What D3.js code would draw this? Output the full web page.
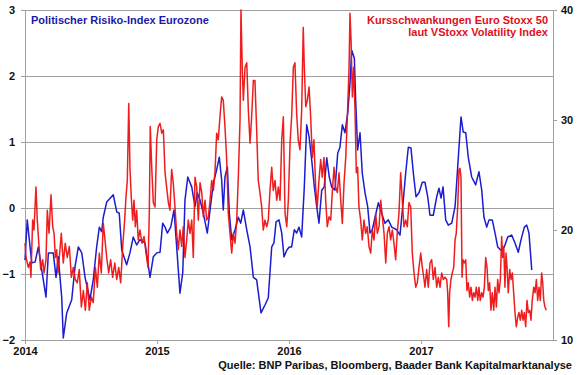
<!DOCTYPE html>
<html>
<head>
<meta charset="utf-8">
<script src="https://cdn.jsdelivr.net/npm/d3@7"></script>
<style>
  body { margin: 0; background: #fff; }
  svg text { font-family: "Liberation Sans", Arial, sans-serif; font-weight: bold; }
</style>
</head>
<body>
<div id="chart"></div>
<script>
// Politischer Risiko-Index Eurozone (left axis), as decimal years
const riskYears = [2014.000, 2014.017, 2014.051, 2014.076, 2014.101, 2014.127, 2014.159, 2014.177, 2014.214, 2014.235,
  2014.252, 2014.278, 2014.290, 2014.316, 2014.354, 2014.379, 2014.404, 2014.430, 2014.455, 2014.492,
  2014.517, 2014.543, 2014.563, 2014.581, 2014.593, 2014.619, 2014.669, 2014.695, 2014.714, 2014.733,
  2014.770, 2014.795, 2014.820, 2014.846, 2014.871, 2014.909, 2014.947, 2014.972, 2014.998, 2015.023,
  2015.043, 2015.061, 2015.078, 2015.104, 2015.129, 2015.149, 2015.174, 2015.195, 2015.212, 2015.233,
  2015.263, 2015.288, 2015.305, 2015.326, 2015.351, 2015.381, 2015.402, 2015.427, 2015.452, 2015.472,
  2015.490, 2015.502, 2015.515, 2015.533, 2015.548, 2015.566, 2015.591, 2015.616, 2015.634, 2015.654,
  2015.680, 2015.705, 2015.730, 2015.755, 2015.788, 2015.818, 2015.843, 2015.869, 2015.886, 2015.902,
  2015.924, 2015.945, 2015.962, 2015.983, 2016.002, 2016.020, 2016.040, 2016.058, 2016.076, 2016.096,
  2016.116, 2016.134, 2016.152, 2016.172, 2016.192, 2016.210, 2016.227, 2016.248, 2016.267, 2016.286,
  2016.305, 2016.323, 2016.348, 2016.369, 2016.386, 2016.404, 2016.424, 2016.445, 2016.462, 2016.475,
  2016.495, 2016.505, 2016.520, 2016.538, 2016.555, 2016.576, 2016.596, 2016.614, 2016.631, 2016.652,
  2016.677, 2016.702, 2016.727, 2016.752, 2016.778, 2016.816, 2016.841, 2016.866, 2016.884, 2016.904,
  2016.924, 2016.942, 2016.962, 2016.985, 2017.010, 2017.030, 2017.051, 2017.068, 2017.093, 2017.119,
  2017.136, 2017.152, 2017.167, 2017.187, 2017.207, 2017.233, 2017.258, 2017.278, 2017.303, 2017.320,
  2017.339, 2017.358, 2017.384, 2017.414, 2017.439, 2017.460, 2017.477, 2017.498, 2017.515, 2017.540,
  2017.561, 2017.581, 2017.606, 2017.631, 2017.657, 2017.687, 2017.712, 2017.737, 2017.758, 2017.783,
  2017.801, 2017.818, 2017.839]
const riskValues = [-0.79, -0.18, -0.83, -0.82, -0.59, -0.94, -1.35, -0.68, -0.68, -1.05,
  -0.74, -1.35, -1.97, -1.59, -1.39, -0.89, -0.59, -0.68, -1.05, -1.39,
  -1.09, -0.59, -0.29, -0.36, -0.14, 0.09, 0.20, -0.06, -0.08, -0.64,
  -0.86, -0.68, -0.44, -0.56, -0.48, -0.53, -1.05, -0.74, -0.68, -0.67,
  -0.23, -0.29, -0.38, -0.29, -0.03, -0.59, -1.29, -0.98, 0.12, 0.47,
  0.32, 0.02, 0.23, 0.12, -0.08, -0.38, -0.03, 0.38, 0.58, 0.77,
  0.42, -0.03, 0.47, 0.62, -0.08, -0.48, -0.33, -0.14, -0.23, -0.03,
  -0.33, -0.59, -1.05, -1.09, -1.59, -1.47, -1.36, -0.59, -0.53, -0.21,
  -0.18, -0.38, -0.74, -0.64, -0.59, -0.59, -0.33, -0.38, -0.29, -0.44,
  0.32, 1.26, 1.08, 0.73, 0.32, 0.02, -0.23, 0.27, 0.32, 0.76,
  0.47, 0.32, 0.27, 0.83, 0.92, 1.26, 1.14, 1.44, 1.89, 2.39,
  2.27, 1.64, 0.88, 1.14, 0.53, 0.23, 0.02, -0.38, -0.33, -0.14,
  0.08, -0.08, -0.23, -0.18, -0.29, -0.33, -0.41, 0.12, 0.53, 0.92,
  0.91, 0.53, 0.17, 0.23, 0.39, 0.39, 0.17, -0.11, -0.11, 0.17,
  0.30, 0.15, 0.32, -0.18, -0.26, -0.23, 0.02, 0.62, 1.38, 1.15,
  1.14, 0.77, 0.47, 0.35, 0.55, 0.27, -0.14, -0.29, -0.18, -0.18,
  -0.38, -0.59, -0.64, -0.59, -0.44, -0.41, -0.53, -0.67, -0.48, -0.29,
  -0.26, -0.38, -0.94]

// VStoxx (right axis)
const vstoxxYears = [2014.000, 2014.008, 2014.025, 2014.038, 2014.045, 2014.058, 2014.068, 2014.083, 2014.093, 2014.108,
  2014.119, 2014.134, 2014.144, 2014.159, 2014.169, 2014.182, 2014.197, 2014.210, 2014.220, 2014.230,
  2014.240, 2014.250, 2014.260, 2014.275, 2014.290, 2014.305, 2014.320, 2014.336, 2014.351, 2014.366,
  2014.381, 2014.396, 2014.411, 2014.427, 2014.442, 2014.457, 2014.472, 2014.487, 2014.502, 2014.517,
  2014.533, 2014.548, 2014.563, 2014.578, 2014.593, 2014.606, 2014.619, 2014.634, 2014.649, 2014.664,
  2014.680, 2014.695, 2014.710, 2014.725, 2014.740, 2014.755, 2014.765, 2014.775, 2014.786, 2014.795,
  2014.805, 2014.816, 2014.826, 2014.836, 2014.846, 2014.858, 2014.871, 2014.886, 2014.902, 2014.917,
  2014.932, 2014.942, 2014.949, 2014.960, 2014.972, 2014.985, 2014.998, 2015.010, 2015.023, 2015.036,
  2015.048, 2015.061, 2015.073, 2015.086, 2015.098, 2015.111, 2015.123, 2015.136, 2015.149, 2015.161,
  2015.174, 2015.187, 2015.199, 2015.212, 2015.225, 2015.237, 2015.250, 2015.263, 2015.275, 2015.288,
  2015.301, 2015.313, 2015.326, 2015.339, 2015.351, 2015.364, 2015.376, 2015.389, 2015.402, 2015.414,
  2015.427, 2015.439, 2015.452, 2015.464, 2015.477, 2015.490, 2015.502, 2015.515, 2015.528, 2015.540,
  2015.553, 2015.566, 2015.578, 2015.591, 2015.604, 2015.616, 2015.629, 2015.636, 2015.646, 2015.654,
  2015.667, 2015.680, 2015.692, 2015.705, 2015.717, 2015.730, 2015.742, 2015.755, 2015.767, 2015.780,
  2015.793, 2015.805, 2015.818, 2015.831, 2015.843, 2015.856, 2015.869, 2015.881, 2015.894, 2015.907,
  2015.919, 2015.932, 2015.945, 2015.957, 2015.970, 2015.983, 2015.995, 2016.008, 2016.020, 2016.033,
  2016.045, 2016.058, 2016.070, 2016.083, 2016.096, 2016.108, 2016.116, 2016.127, 2016.139, 2016.152,
  2016.164, 2016.177, 2016.189, 2016.202, 2016.214, 2016.227, 2016.240, 2016.252, 2016.265, 2016.278,
  2016.290, 2016.303, 2016.316, 2016.328, 2016.341, 2016.354, 2016.366, 2016.379, 2016.392, 2016.404,
  2016.417, 2016.430, 2016.442, 2016.455, 2016.462, 2016.470, 2016.480, 2016.490, 2016.500, 2016.510,
  2016.520, 2016.530, 2016.543, 2016.555, 2016.568, 2016.581, 2016.593, 2016.606, 2016.619, 2016.631,
  2016.644, 2016.657, 2016.669, 2016.682, 2016.695, 2016.707, 2016.720, 2016.733, 2016.745, 2016.758,
  2016.770, 2016.783, 2016.795, 2016.808, 2016.820, 2016.833, 2016.846, 2016.858, 2016.871, 2016.884,
  2016.896, 2016.909, 2016.922, 2016.934, 2016.947, 2016.960, 2016.972, 2016.985, 2016.998, 2017.010,
  2017.023, 2017.030, 2017.043, 2017.055, 2017.068, 2017.081, 2017.093, 2017.106, 2017.119, 2017.131,
  2017.144, 2017.157, 2017.169, 2017.182, 2017.195, 2017.202, 2017.210, 2017.217, 2017.227, 2017.237,
  2017.248, 2017.258, 2017.267, 2017.278, 2017.288, 2017.295, 2017.303, 2017.311, 2017.318, 2017.328,
  2017.339, 2017.348, 2017.358, 2017.369, 2017.379, 2017.389, 2017.399, 2017.409, 2017.419, 2017.430,
  2017.439, 2017.449, 2017.460, 2017.470, 2017.480, 2017.490, 2017.500, 2017.510, 2017.520, 2017.530,
  2017.540, 2017.551, 2017.561, 2017.571, 2017.581, 2017.591, 2017.601, 2017.611, 2017.619, 2017.627,
  2017.636, 2017.644, 2017.652, 2017.661, 2017.672, 2017.682, 2017.692, 2017.702, 2017.712, 2017.722,
  2017.733, 2017.742, 2017.752, 2017.763, 2017.773, 2017.783, 2017.793, 2017.803, 2017.813, 2017.824,
  2017.833, 2017.843, 2017.854, 2017.864, 2017.874, 2017.884, 2017.894, 2017.904, 2017.914, 2017.922,
  2017.930, 2017.939, 2017.949]
const vstoxxValues = [18.8, 17.5, 16.6, 17.1, 15.7, 20.9, 20.0, 23.9, 20.9, 18.2,
  16.4, 17.3, 16.1, 17.3, 21.8, 19.7, 23.2, 20.3, 19.7, 17.5,
  18.2, 16.1, 17.5, 19.7, 17.0, 18.8, 17.5, 18.5, 15.7, 16.6,
  15.5, 15.2, 16.4, 13.0, 14.5, 12.7, 15.2, 12.7, 13.9, 13.4,
  16.6, 14.8, 17.9, 16.1, 20.6, 19.1, 17.5, 16.1, 17.3, 15.7,
  17.0, 15.5, 16.6, 15.2, 18.5, 20.9, 23.0, 24.5, 31.5, 25.7,
  23.0, 20.9, 22.7, 20.3, 21.8, 19.1, 20.0, 18.8, 19.4, 17.9,
  16.6, 21.8, 29.4, 25.7, 22.5, 22.1, 28.2, 29.4, 29.7, 28.8,
  29.1, 25.2, 23.9, 22.5, 21.8, 25.5, 24.3, 22.1, 19.7, 18.2,
  20.0, 18.5, 20.3, 17.5, 19.1, 20.9, 19.7, 20.9, 17.5, 24.8,
  23.9, 20.9, 24.3, 23.4, 21.2, 22.7, 20.9, 21.2, 22.7, 24.5,
  23.6, 25.2, 28.8, 28.2, 30.3, 32.1, 31.8, 29.4, 26.4, 21.5,
  19.7, 17.9, 19.7, 18.8, 20.9, 24.8, 30.0, 40.0, 34.8, 31.8,
  34.8, 35.2, 30.9, 27.9, 30.3, 33.6, 33.6, 29.1, 24.5, 23.4,
  22.1, 20.0, 20.9, 20.3, 20.9, 23.6, 25.7, 23.6, 24.5, 22.7,
  23.9, 22.7, 28.2, 30.3, 21.5, 20.3, 22.7, 27.9, 30.3, 34.8,
  35.2, 30.6, 28.2, 27.3, 30.9, 38.4, 34.8, 31.2, 31.8, 33.0,
  30.3, 26.6, 28.2, 23.9, 22.1, 24.5, 26.4, 24.8, 26.6, 22.7,
  20.3, 21.2, 20.9, 23.4, 25.7, 23.9, 23.4, 25.2, 22.7, 20.6,
  24.3, 26.6, 30.3, 34.8, 39.7, 37.3, 32.1, 34.8, 30.9, 25.2,
  25.7, 22.1, 20.9, 19.1, 20.9, 19.7, 20.3, 18.5, 17.9, 20.0,
  19.1, 21.5, 19.7, 20.3, 22.7, 21.2, 19.7, 17.0, 19.7, 20.3,
  19.1, 20.0, 18.8, 17.3, 19.7, 21.5, 25.2, 22.7, 20.3, 20.9,
  20.3, 22.5, 22.1, 17.9, 16.1, 14.8, 15.2, 16.6, 17.9, 16.6,
  15.5, 14.8, 16.4, 14.8, 17.0, 17.3, 15.5, 16.6, 14.8, 15.7,
  14.8, 16.1, 15.5, 15.7, 15.5, 14.3, 11.2, 14.3, 15.5, 16.1,
  16.6, 19.1, 19.7, 22.1, 25.5, 25.6, 24.8, 15.7, 17.3, 17.0,
  17.3, 14.5, 15.2, 13.9, 14.8, 13.6, 14.3, 13.9, 14.8, 13.6,
  14.8, 13.6, 14.3, 13.9, 14.8, 17.5, 16.6, 14.5, 15.2, 12.7,
  14.3, 12.7, 14.8, 13.0, 15.5, 14.3, 15.5, 19.4, 17.5, 18.5,
  14.8, 17.9, 16.6, 14.3, 16.4, 15.5, 16.1, 14.3, 12.5, 11.2,
  12.1, 12.5, 11.8, 12.7, 11.8, 12.5, 11.2, 13.6, 12.5, 12.7,
  11.8, 13.6, 14.8, 14.3, 15.5, 13.6, 14.8, 13.6, 16.1, 15.2,
  13.6, 13.0, 12.7]

const leftTicks = [-2, -1, 0, 1, 2, 3]
const rightTicks = [10, 20, 30, 40]
const yearTicks = [2014, 2015, 2016, 2017]

const riskTitle = "Politischer Risiko-Index Eurozone"
const vstoxxTitle = ["Kursschwankungen Euro Stoxx 50", "laut VStoxx Volatility Index"]
const sourceText = "Quelle: BNP Paribas, Bloomberg, Baader Bank Kapitalmarktanalyse"

const w = 580, h = 375
const margin = {left: 25, right: 27, top: 10, bottom: 35}

const svg = d3.select("#chart").append("svg")
  .attr("width", w).attr("height", h)

const x = d3.scaleLinear().domain([2014, 2018]).range([margin.left, w - margin.right])
const yL = d3.scaleLinear().domain([-2, 3]).range([h - margin.bottom, margin.top])
const yR = d3.scaleLinear().domain([10, 40]).range([h - margin.bottom, margin.top])

const axisCol = "#a0a0a0"

// horizontal gridlines
svg.append("g").selectAll("line")
  .data(leftTicks)
  .join("line")
  .attr("x1", x(2014)).attr("x2", x(2018))
  .attr("y1", d => yL(d)).attr("y2", d => yL(d))
  .attr("stroke", axisCol).attr("stroke-width", 1)
  .attr("shape-rendering", "crispEdges")

// axes
const gL = svg.append("g").attr("transform", `translate(${x(2014)},0)`)
  .call(d3.axisLeft(yL).tickValues(leftTicks).tickSize(4).tickPadding(6).tickFormat(d3.format("d")))
const gR = svg.append("g").attr("transform", `translate(${x(2018)},0)`)
  .call(d3.axisRight(yR).tickValues(rightTicks).tickSize(4).tickPadding(4))
const gB = svg.append("g").attr("transform", `translate(0,${yL(-2)})`)
  .call(d3.axisBottom(x).tickValues(yearTicks).tickSize(4).tickPadding(3).tickFormat(d3.format("d")))

for (const g of [gL, gR, gB]) {
  g.selectAll("path.domain").attr("stroke", axisCol).attr("shape-rendering", "crispEdges")
  g.selectAll(".tick line").attr("stroke", axisCol).attr("shape-rendering", "crispEdges")
  g.selectAll(".tick text").attr("fill", "#111").style("font-size", "11px")
    .style("font-family", "'Liberation Sans', Arial, sans-serif").style("font-weight", "bold")
}
gB.selectAll("path.domain").attr("d", `M${x(2014)},0H${x(2018)}`)

// lines
const riskLine = d3.line().x((d, i) => x(riskYears[i])).y(d => yL(d))
const vstoxxLine = d3.line().x((d, i) => x(vstoxxYears[i])).y(d => yR(d))

svg.append("path")
  .attr("d", riskLine(riskValues))
  .attr("fill", "none").attr("stroke", "#1c1cd0").attr("stroke-width", 1.5)
  .attr("stroke-linejoin", "round")

svg.append("path")
  .attr("d", vstoxxLine(vstoxxValues))
  .attr("fill", "none").attr("stroke", "#ee1111").attr("stroke-width", 1.5)
  .attr("stroke-linejoin", "round").attr("opacity", 0.95)

// titles
svg.append("text").attr("x", 31).attr("y", 24)
  .attr("fill", "#1a1aaa").style("font-size", "11px").text(riskTitle)

svg.append("g").selectAll("text")
  .data(vstoxxTitle)
  .join("text")
  .attr("x", 548).attr("y", (d, i) => 23.5 + i * 12.5)
  .attr("text-anchor", "end")
  .attr("fill", "#dd1122").style("font-size", "11px")
  .text(d => d)

svg.append("text").attr("x", 572).attr("y", 369)
  .attr("text-anchor", "end").attr("fill", "#111").style("font-size", "11px")
  .text(sourceText)
</script>
</body>
</html>
